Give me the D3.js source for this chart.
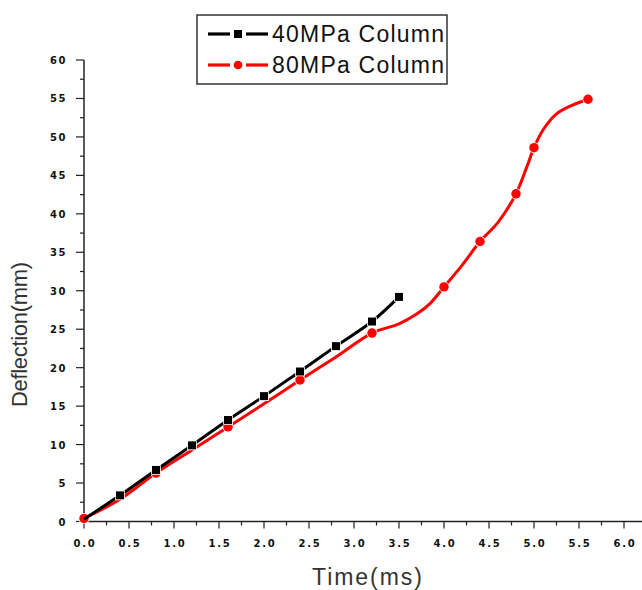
<!DOCTYPE html>
<html>
<head>
<meta charset="utf-8">
<script src="https://cdn.jsdelivr.net/npm/d3@7"></script>
<style>
  html, body { margin: 0; padding: 0; background: #fff; }
  svg { display: block; }
</style>
</head>
<body>
<svg id="chart" width="642" height="590"></svg>
<script>
// ---- data ----
const xTicks = [0, 0.5, 1, 1.5, 2, 2.5, 3, 3.5, 4, 4.5, 5, 5.5, 6];
const yTicks = [0, 5, 10, 15, 20, 25, 30, 35, 40, 45, 50, 55, 60];

const time40 = [0, 0.4, 0.8, 1.2, 1.6, 2.0, 2.4, 2.8, 3.2, 3.5];
const defl40 = [0.3, 3.4, 6.7, 9.9, 13.2, 16.3, 19.5, 22.8, 26.0, 29.2];
const marker40 = [1, 2, 3, 4, 5, 6, 7, 8, 9];

const time80 = [0, 0.4, 0.8, 1.2, 1.6, 2.0, 2.4, 2.8, 3.2, 3.5, 3.7, 3.85, 4.0, 4.2, 4.4, 4.6, 4.8, 4.92, 5.0, 5.1, 5.25, 5.44, 5.6];
const defl80 = [0.4, 2.9, 6.3, 9.3, 12.3, 15.3, 18.4, 21.4, 24.5, 25.7, 27.0, 28.4, 30.5, 33.3, 36.4, 38.9, 42.6, 46.1, 48.6, 50.9, 53.0, 54.2, 54.9];
const marker80 = [0, 2, 4, 6, 8, 12, 14, 16, 18, 22];

const seriesNames = ["40MPa Column", "80MPa Column"];
const seriesColors = ["#000000", "#ff0000"];

// ---- chart ----
const svg = d3.select("#chart");
const x = d3.scaleLinear().domain([0, 6]).range([84, 624]);
const y = d3.scaleLinear().domain([0, 60]).range([521.5, 60]);

const tickFont = "'DejaVu Sans', sans-serif";

// x axis
const xAxis = svg.append("g").attr("transform", `translate(0,${y(0)})`);
xAxis.append("line").attr("x1", x(0)).attr("x2", 642).attr("y1", 0).attr("y2", 0)
  .attr("stroke", "#222").attr("stroke-width", 1.5);
const xMinor = d3.range(0.25, 6.01, 0.5);
xAxis.selectAll(".xminor").data(xMinor).join("line")
  .attr("x1", d => x(d)).attr("x2", d => x(d)).attr("y1", 0).attr("y2", 4)
  .attr("stroke", "#222").attr("stroke-width", 1.2);
xAxis.selectAll(".xmajor").data(xTicks).join("line")
  .attr("x1", d => x(d)).attr("x2", d => x(d)).attr("y1", 0).attr("y2", 7)
  .attr("stroke", "#222").attr("stroke-width", 1.2);
xAxis.selectAll(".xlab").data(xTicks).join("text")
  .attr("x", d => x(d) + 1).attr("y", 25)
  .attr("text-anchor", "middle")
  .attr("font-family", tickFont).attr("font-weight", "bold").attr("font-size", 10)
  .attr("letter-spacing", 1.8)
  .attr("fill", "#111")
  .text(d => d3.format(".1f")(d));

// y axis
const yAxis = svg.append("g").attr("transform", `translate(${x(0)},0)`);
yAxis.append("line").attr("x1", 0).attr("x2", 0).attr("y1", y(60)).attr("y2", y(0))
  .attr("stroke", "#222").attr("stroke-width", 1.5);
const yMinor = d3.range(2.5, 60, 5);
yAxis.selectAll(".yminor").data(yMinor).join("line")
  .attr("x1", -4).attr("x2", 0).attr("y1", d => y(d)).attr("y2", d => y(d))
  .attr("stroke", "#222").attr("stroke-width", 1.2);
yAxis.selectAll(".ymajor").data(yTicks).join("line")
  .attr("x1", -8).attr("x2", 0).attr("y1", d => y(d)).attr("y2", d => y(d))
  .attr("stroke", "#222").attr("stroke-width", 1.2);
yAxis.selectAll(".ylab").data(yTicks).join("text")
  .attr("x", -17).attr("y", d => y(d) + 4)
  .attr("text-anchor", "end")
  .attr("font-family", tickFont).attr("font-weight", "bold").attr("font-size", 10)
  .attr("letter-spacing", 1.5)
  .attr("fill", "#111")
  .text(d => d);

// axis titles
svg.append("text")
  .attr("transform", `translate(27,${(262 + 407) / 2}) rotate(-90)`)
  .attr("text-anchor", "middle")
  .attr("font-family", "'Liberation Sans', Arial, sans-serif")
  .attr("font-size", 22).attr("fill", "#333")
  .attr("textLength", 145).attr("lengthAdjust", "spacing")
  .text("Deflection(mm)");
svg.append("text")
  .attr("x", 312).attr("y", 585)
  .attr("font-family", "'Liberation Sans', Arial, sans-serif")
  .attr("font-size", 23).attr("fill", "#333")
  .attr("textLength", 110).attr("lengthAdjust", "spacing")
  .text("Time(ms)");

// series
const line = d3.line().x(d => x(d[0])).y(d => y(d[1])).curve(d3.curveCatmullRom.alpha(0.5));
const data40 = time40.map((t, i) => [t, defl40[i]]);
const data80 = time80.map((t, i) => [t, defl80[i]]);

const plot = svg.append("g");
function drawSeries(data, markers, color, shape) {
  plot.append("path").datum(data)
    .attr("d", line).attr("fill", "none")
    .attr("stroke", color).attr("stroke-width", 3)
    .attr("stroke-linejoin", "round");
  const pts = markers.map(i => data[i]);
  const sym = d3.symbol().type(shape === "square" ? d3.symbolSquare : d3.symbolCircle)
    .size(shape === "square" ? 64 : 70);
  plot.selectAll(null).data(pts).join("path")
    .attr("transform", d => `translate(${x(d[0])},${y(d[1])})`)
    .attr("d", sym)
    .attr("fill", color)
    .attr("stroke", "#fff").attr("stroke-width", 1.6)
    .attr("paint-order", "stroke");
}
drawSeries(data80, marker80, seriesColors[1], "circle");
drawSeries(data40, marker40, seriesColors[0], "square");

// legend
const lg = svg.append("g");
lg.append("rect").attr("x", 197).attr("y", 15).attr("width", 250).attr("height", 69)
  .attr("fill", "#fff").attr("stroke", "#333").attr("stroke-width", 1.5);
const legendRows = [34, 65];
seriesNames.forEach((name, i) => {
  const ly = legendRows[i];
  lg.append("line").attr("x1", 208).attr("x2", 230).attr("y1", ly).attr("y2", ly)
    .attr("stroke", seriesColors[i]).attr("stroke-width", 3.2);
  lg.append("line").attr("x1", 246).attr("x2", 268).attr("y1", ly).attr("y2", ly)
    .attr("stroke", seriesColors[i]).attr("stroke-width", 3.2);
  lg.append("path")
    .attr("transform", `translate(238,${ly})`)
    .attr("d", d3.symbol().type(i === 0 ? d3.symbolSquare : d3.symbolCircle).size(i === 0 ? 64 : 60))
    .attr("fill", seriesColors[i]);
  lg.append("text").attr("x", 272).attr("y", ly + 8)
    .attr("font-family", "'Liberation Sans', Arial, sans-serif")
    .attr("font-size", 23).attr("fill", "#111")
    .attr("textLength", 172).attr("lengthAdjust", "spacing")
    .text(name);
});
</script>
</body>
</html>
